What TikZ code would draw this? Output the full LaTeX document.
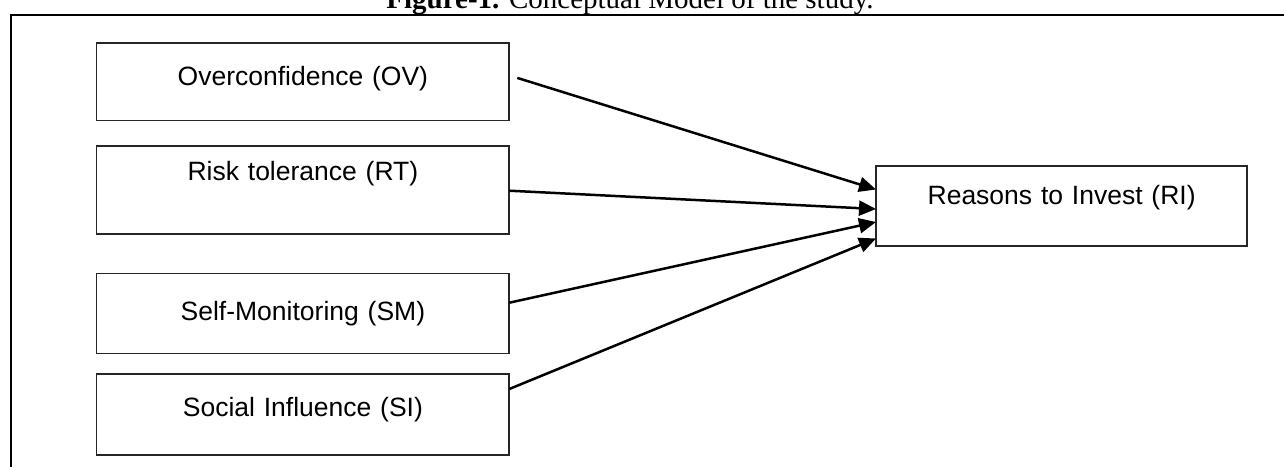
\documentclass[tikz,border=0pt]{standalone}
\usepackage{fontspec}
\setmainfont{Liberation Serif}
\setsansfont{Liberation Sans}
\usetikzlibrary{arrows.meta}
\tikzset{
  varbox/.style={draw=black!85, line width=1.8pt, inner sep=0pt, outer sep=0pt,
    align=center, font=\sffamily\fontsize{26.5}{30}\selectfont, anchor=north west},
  path/.style={draw=black, line width=2.5pt, -{Triangle[length=17pt,width=15pt]}},
  frameline/.style={draw=black, line width=2.2pt}
}
\begin{document}
\begin{tikzpicture}[x=1pt,y=-1pt]
\useasboundingbox (0,0) rectangle (1284,466);
\clip (0,0) rectangle (1284,466);

% caption above the frame
\node[anchor=base, inner sep=0pt, font=\fontsize{29}{32}\selectfont] (cap) at (630,8.5)
  {\textbf{Figure-1.} Conceptual Model of the study.};

% open frame around the model
\draw[frameline] (11.3,480) -- (11.3,15) -- (1300,15);

% independent variables
\node[varbox, text width=412.8pt, text height=41.7pt, text depth=35.5pt] (ov) at (96.5,43.3) {Overconfidence (OV)};
\node[varbox, text width=412.8pt, text height=34pt,   text depth=54pt]   (rt) at (96.5,146)  {Risk tolerance (RT)};
\node[varbox, text width=412.8pt, text height=46.5pt, text depth=33.5pt] (sm) at (96.5,273.5) {Self-Monitoring (SM)};
\node[varbox, text width=412.8pt, text height=42.4pt, text depth=38.6pt] (si) at (96.5,374)  {Social Influence (SI)};

% dependent variable
\node[varbox, text width=371.3pt, text height=38.5pt, text depth=41.5pt] (ri) at (876,166) {Reasons to Invest (RI)};

% hypothesised paths
\draw[path] ([xshift=8pt,yshift=4pt]ov.east) -- ([yshift=16.5pt]ri.west);
\draw[path] ([yshift=-0.7pt]rt.east) -- ([yshift=-3pt]ri.west);
\draw[path] ([yshift=10.8pt]sm.east) -- ([yshift=-16pt]ri.west);
\draw[path] ([yshift=25.5pt]si.east) -- ([yshift=-32.5pt]ri.west);
\end{tikzpicture}
\end{document}
